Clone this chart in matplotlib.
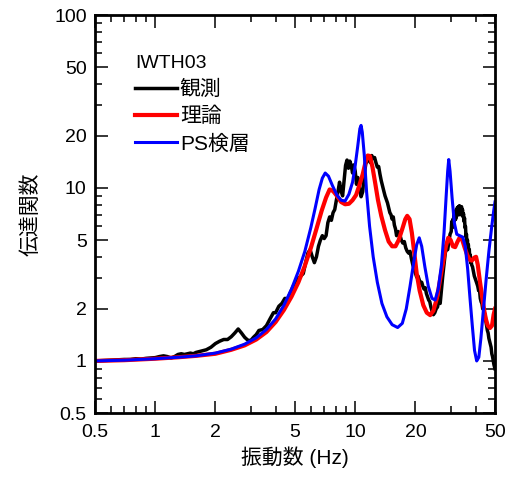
import numpy as np
import matplotlib
matplotlib.use("Agg")
import matplotlib.pyplot as plt
from matplotlib.ticker import FixedLocator, NullFormatter, FixedFormatter

plt.rcParams['font.family'] = ['Liberation Sans', 'Noto Sans CJK JP', 'DejaVu Sans']

# observed (観測)
obs_f = [0.5, 0.55, 0.6, 0.65, 0.7, 0.75, 0.8, 0.85, 0.9, 0.95, 1.0, 1.05, 1.1, 1.15, 1.2, 1.25,
         1.3, 1.35, 1.4, 1.45, 1.5, 1.55, 1.6, 1.7, 1.8, 1.9, 2.0, 2.1, 2.2, 2.3, 2.4, 2.5, 2.6,
         2.7, 2.8, 2.9, 3.0, 3.1, 3.2, 3.3, 3.45, 3.6, 3.75, 3.9, 4.0, 4.15, 4.3, 4.45, 4.6, 4.75,
         4.9, 5.05, 5.2, 5.35, 5.5, 5.65, 5.8, 5.95, 6.1, 6.25, 6.4, 6.55, 6.7, 6.85, 7.0, 7.15,
         7.3, 7.45, 7.6, 7.75, 7.9, 8.05, 8.2, 8.35, 8.5, 8.65, 8.8, 8.95, 9.1, 9.25, 9.4, 9.55,
         9.7, 9.85, 10.0, 10.15, 10.3, 10.5, 10.7, 10.9, 11.1, 11.3, 11.5, 11.7, 11.9, 12.1, 12.3,
         12.5, 12.7, 12.9, 13.1, 13.3, 13.5, 13.7, 13.9, 14.1, 14.3, 14.5, 14.7, 14.9, 15.1, 15.3,
         15.5, 15.7, 15.9, 16.1, 16.4, 16.7, 17.0, 17.3, 17.6, 17.9, 18.2, 18.5, 18.8, 19.1, 19.4,
         19.7, 20.0, 20.3, 20.6, 20.9, 21.2, 21.5, 21.8, 22.1, 22.4, 22.7, 23.0, 23.3, 23.6, 23.9,
         24.2, 24.6, 25.0, 25.4, 25.8, 26.2, 26.6, 27.0, 27.4, 27.8, 28.2, 28.6, 29.0, 29.4, 29.8,
         30.2, 30.4, 30.6, 30.8, 31.0, 31.2, 31.4, 31.6, 31.8, 32.0, 32.2, 32.4, 32.6, 32.8, 33.0,
         33.2, 33.4, 33.6, 33.8, 34.0, 34.2, 34.4, 34.6, 34.8, 35.0, 35.2, 35.4, 35.6, 35.8, 36.0,
         36.2, 36.4, 36.6, 36.8, 37.0, 37.2, 37.4, 37.6, 37.8, 38.0, 38.2, 38.6, 39.0, 39.4, 39.8,
         40.2, 40.6, 41.0, 41.4, 41.8, 42.2, 42.6, 43.0, 43.4, 43.8, 44.2, 44.6, 45.0, 45.4, 45.8,
         46.2, 46.6, 47.0, 47.4, 47.8, 48.2, 48.6, 49.0, 49.4, 50.0]
obs_v = [1.0, 1.005, 1.01, 1.015, 1.02, 1.02, 1.03, 1.025, 1.035, 1.04, 1.045, 1.06, 1.07, 1.06, 1.04, 1.06,
         1.09, 1.1, 1.09, 1.1, 1.11, 1.1, 1.12, 1.14, 1.16, 1.2, 1.26, 1.3, 1.33, 1.33, 1.38, 1.45, 1.53,
         1.45, 1.37, 1.32, 1.31, 1.37, 1.42, 1.5, 1.52, 1.6, 1.75, 1.9, 1.9, 2.07, 2.15, 2.3, 2.28, 2.5,
         2.7, 2.8, 3.0, 3.1, 3.2, 3.7, 4.2, 4.4, 4.0, 3.7, 4.0, 4.6, 5.0, 5.3, 5.1, 5.3,
         6.3, 6.8, 6.5, 7.2, 7.5, 8.5, 9.5, 10.8, 9.6, 9.0, 11.0, 13.5, 14.5, 13.0, 14.3, 13.5,
         12.2, 13.6, 12.5, 10.5, 11.5, 10.0, 8.9, 9.5, 12.0, 13.8, 14.5, 15.2, 14.0, 15.4, 14.8,
         15.0, 14.0, 13.2, 13.3, 12.0, 11.0, 10.3, 9.6, 9.0, 8.6, 8.2, 7.7, 7.2, 7.0, 6.6,
         6.8, 6.1, 5.8, 5.3, 5.6, 5.4, 5.0, 4.8, 4.9, 4.5, 4.3, 4.2, 4.3, 3.9, 3.6,
         3.4, 3.2, 3.05, 3.1, 2.95, 2.8, 2.85, 2.7, 2.6, 2.65, 2.45, 2.35, 2.25, 2.2, 2.05,
         1.95, 1.85, 1.9, 2.0, 2.05, 2.25, 2.15, 2.6, 3.1, 3.6, 4.2, 4.5, 4.4, 4.9, 5.4,
         5.6, 6.4, 5.9, 6.6, 6.1, 7.0, 6.5, 7.3, 6.6, 7.5, 6.9, 7.7, 7.0, 7.8, 7.2,
         7.9, 7.0, 7.6, 7.1, 7.8, 7.2, 7.5, 6.8, 7.1, 6.4, 6.7, 5.9, 6.0, 5.2, 5.4,
         4.7, 5.0, 4.5, 4.7, 4.2, 4.4, 3.9, 4.1, 3.7, 3.8, 3.6, 3.5, 3.3, 3.1, 3.0,
         2.9, 2.8, 2.7, 2.55, 2.6, 2.3, 2.2, 2.15, 2.0, 2.05, 1.9, 1.85, 1.7, 1.6, 1.5,
         1.45, 1.35, 1.3, 1.25, 1.2, 1.1, 1.06, 1.0, 0.95, 0.9]

# theory (理論)
th_f = [0.5, 0.7, 1.0, 1.3, 1.6, 2.0, 2.4, 2.8, 3.2, 3.6, 4.0, 4.4, 4.8, 5.2, 5.6, 6.0, 6.4, 6.8,
        7.15, 7.45, 7.75, 8.1, 8.5, 8.9, 9.3, 9.7, 10.1, 10.5, 10.9, 11.25, 11.55, 11.85, 12.2,
        12.6, 13.0, 13.5, 14.1, 14.7, 15.3, 15.9, 16.5, 17.2, 17.8, 18.2, 18.7, 19.2, 19.7, 20.3,
        21.0, 21.9, 22.8, 23.7, 24.6, 25.6, 26.5, 27.5, 28.4, 29.2, 30.0, 30.8, 31.6, 32.5, 33.4,
        34.3, 35.3, 36.3, 37.3, 38.3, 39.3, 40.2, 41.0, 42.0, 43.0, 44.0, 45.0, 46.0, 47.2, 48.3,
        49.2, 50.0]
th_v = [1.0, 1.01, 1.03, 1.05, 1.07, 1.1, 1.16, 1.23, 1.33, 1.47, 1.68, 1.97, 2.35, 2.85, 3.55, 4.5, 5.8, 7.4,
        8.8, 9.8, 9.6, 9.0, 8.3, 8.05, 8.1, 8.5, 9.1, 10.4, 12.0, 14.0, 15.4, 15.3, 13.2,
        10.6, 8.5, 6.9, 5.7, 4.9, 4.6, 4.6, 5.0, 5.8, 6.6, 6.9, 6.6, 5.5, 4.3, 3.2,
        2.55, 2.1, 1.9, 1.84, 1.95, 2.3, 2.9, 3.7, 4.6, 5.15, 5.0, 4.6, 4.55, 4.9, 5.2,
        5.0, 4.5, 4.1, 3.85, 3.8, 3.95, 4.0, 3.6, 2.9, 2.4, 2.0, 1.75, 1.6, 1.55, 1.6,
        1.85, 2.0]

# PS logging (PS検層)
ps_f = [0.5, 0.7, 1.0, 1.3, 1.6, 2.0, 2.4, 2.8, 3.2, 3.6, 4.0, 4.4, 4.8, 5.2, 5.6, 6.0, 6.3, 6.6,
        6.85, 7.08, 7.35, 7.7, 8.1, 8.5, 8.9, 9.3, 9.7, 10.0, 10.3, 10.55, 10.7, 10.85, 11.1, 11.4,
        11.8, 12.3, 12.9, 13.6, 14.4, 15.3, 16.3, 17.2, 18.0, 18.8, 19.6, 20.3, 20.9, 21.5, 22.3,
        23.2, 24.2, 25.1, 26.0, 27.0, 27.8, 28.5, 29.0, 29.35, 29.8, 30.5, 31.3, 32.2, 33.3, 34.5,
        35.5, 36.5, 37.5, 38.5, 39.5, 40.5, 41.5, 42.5, 43.8, 45.2, 46.6, 48.0, 49.2, 50.0]
ps_v = [1.0, 1.01, 1.03, 1.05, 1.07, 1.11, 1.17, 1.25, 1.36, 1.52, 1.75, 2.1, 2.6, 3.3, 4.3, 5.9, 7.6, 9.8,
        11.4, 12.2, 11.7, 10.3, 9.1, 8.5, 8.4, 9.2, 10.8, 13.5, 17.5, 22.0, 23.0, 21.0, 15.5, 9.5,
        6.0, 4.0, 2.85, 2.15, 1.8, 1.62, 1.56, 1.65, 2.0, 2.7, 3.7, 4.7, 5.15, 4.6, 3.5,
        2.7, 2.3, 2.25, 2.6, 3.6, 5.5, 9.0, 12.5, 14.6, 12.5, 8.8, 6.3, 5.4, 5.3, 5.2,
        4.6, 3.4, 2.3, 1.6, 1.15, 1.0, 1.05, 1.35, 2.0, 3.0, 4.3, 5.8, 7.3, 8.3]

labels = ['観測', '理論', 'PS検層']
x_major = [0.5, 1, 2, 5, 10, 20, 50]
y_major = [0.5, 1, 2, 5, 10, 20, 50, 100]

fig = plt.figure(figsize=(5.21, 4.79), dpi=100)
ax = fig.add_axes([95 / 521, 1 - 413 / 479, 400 / 521, 398 / 479])

ax.plot(obs_f, obs_v, color='black', lw=2.5, label=labels[0])
ax.plot(th_f, th_v, color='#ff0000', lw=3.0, label=labels[1])
ax.plot(ps_f, ps_v, color='#0000ff', lw=2.2, label=labels[2])

ax.set_xscale('log')
ax.set_yscale('log')
ax.set_xlim(0.5, 50)
ax.set_ylim(0.5, 100)

x_minor = [0.6, 0.7, 0.8, 0.9, 3, 4, 6, 7, 8, 9, 30, 40]
y_minor = [0.6, 0.7, 0.8, 0.9, 3, 4, 6, 7, 8, 9, 30, 40, 60, 70, 80, 90]
ax.xaxis.set_major_locator(FixedLocator(x_major))
ax.xaxis.set_major_formatter(FixedFormatter([f'{v:g}' for v in x_major]))
ax.xaxis.set_minor_locator(FixedLocator(x_minor))
ax.xaxis.set_minor_formatter(NullFormatter())
ax.yaxis.set_major_locator(FixedLocator(y_major))
ax.yaxis.set_major_formatter(FixedFormatter([f'{v:g}' for v in y_major]))
ax.yaxis.set_minor_locator(FixedLocator(y_minor))
ax.yaxis.set_minor_formatter(NullFormatter())

ax.tick_params(which='both', direction='in', top=True, right=True, width=1.1)
ax.tick_params(which='major', length=9, labelsize=14, pad=8)
ax.tick_params(which='minor', length=5)
ax.tick_params(axis='y', which='major', pad=6)
for s in ax.spines.values():
    s.set_linewidth(2)

ax.set_xlabel('振動数 (Hz)', fontsize=15, labelpad=4)
ax.set_ylabel('伝達関数', fontsize=15, labelpad=10)

leg = ax.legend(title='IWTH03', loc='upper left', bbox_to_anchor=(0.1, 0.9),
                frameon=False, alignment='left', fontsize=15, title_fontsize=14,
                handlelength=2.0, handletextpad=0.15, labelspacing=0.38,
                borderpad=0, borderaxespad=0)

fig.savefig('out.png', dpi=100)
